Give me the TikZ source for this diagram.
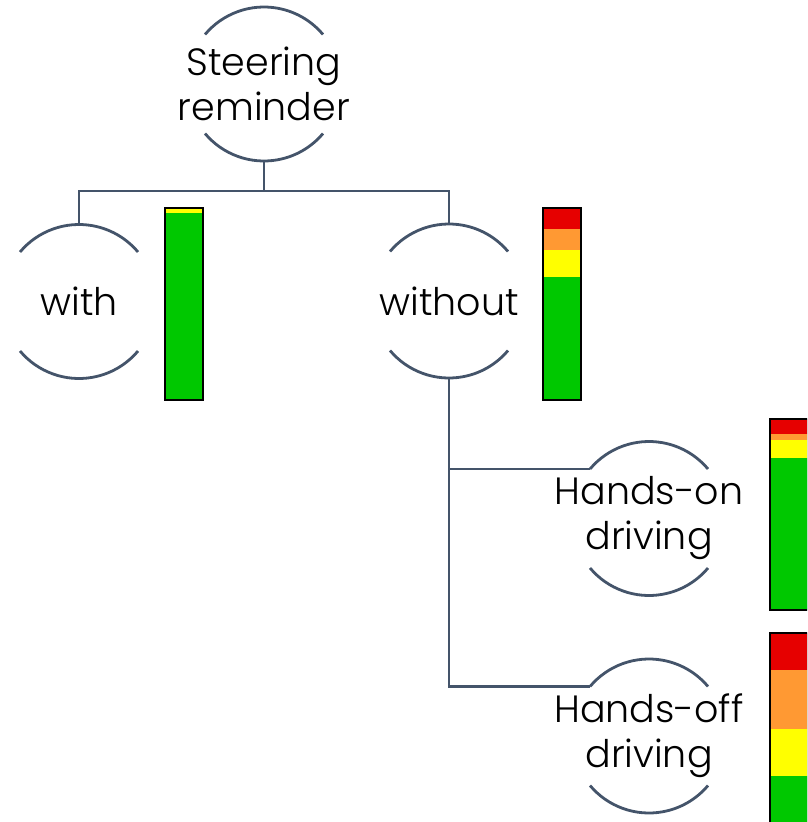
\documentclass[tikz,border=0pt]{standalone}
\usepackage{fontspec}
\setmainfont{Poppins}[UprightFont=* Light]
\definecolor{linkblue}{HTML}{44546A}
\definecolor{barred}{RGB}{230,0,0}
\definecolor{barorange}{RGB}{255,153,51}
\definecolor{baryellow}{RGB}{255,255,0}
\definecolor{bargreen}{RGB}{0,200,0}
\tikzset{
  ring/.style={circle, minimum size=154pt, inner sep=0pt, outer sep=0pt},
  label text/.style={align=center, inner sep=0pt,
    font=\fontsize{38}{45}\selectfont},
  rim/.style={draw=linkblue, line width=2.8pt},
  link/.style={draw=linkblue, line width=2.8pt},
  barframe/.style={draw=black, line width=2pt},
}
% half-open ring: an arc above and an arc below the label
\newcommand{\ringarcs}[1]{%
  \draw[rim] (#1.140) arc[start angle=140, end angle=40, radius=77pt];
  \draw[rim] (#1.220) arc[start angle=220, end angle=320, radius=77pt];}
% stacked bar: x0, x1, then y-boundaries top, r/o, o/y, y/g, bottom
\newcommand{\riskbar}[7]{%
  \fill[barred]    (#1,#3) rectangle (#2,#4);
  \fill[barorange] (#1,#4) rectangle (#2,#5);
  \fill[baryellow] (#1,#5) rectangle (#2,#6);
  \fill[bargreen]  (#1,#6) rectangle (#2,#7);
  \draw[barframe]  (#1,#3) rectangle (#2,#7);}
\begin{document}
\begin{tikzpicture}[x=1pt, y=-1pt]
\useasboundingbox (0,0) rectangle (807,822);

\node[ring] (sr)   at (264,84)    {};
\node[ring] (with) at (79,301.5)  {};
\node[ring] (wout) at (449,301)   {};
\node[ring] (hon)  at (649,518.5) {};
\node[ring] (hoff) at (649,736)   {};

\node[label text] (sr-t)   at (sr)   {Steering\\reminder};
\node[label text] (with-t) at (with) {with};
\node[label text] (wout-t) at (wout) {without};
\node[label text] (hon-t)  at (hon)  {Hands-on\\driving};
\node[label text] (hoff-t) at (hoff) {Hands-off\\driving};

\foreach \n in {sr,with,wout,hon,hoff} {\ringarcs{\n}}

\coordinate (fork) at (264,191);
\draw[link] (sr.south) -- (fork);
\draw[link] (with.north) |- (fork) -| (wout.north);
\draw[link] (wout.south) |- (hon.140);
\draw[link] (wout.south) |- (hoff.140);

\begin{scope}
\clip (0,0) rectangle (807,822);
\riskbar{165}{203}{208}{208}{208}{213}{400}
\riskbar{543}{581}{208}{229}{250}{277}{400}
\riskbar{770}{808}{419}{434}{440}{458}{610}
\riskbar{770}{808}{633}{670}{729}{776}{830}
\end{scope}
\end{tikzpicture}
\end{document}
